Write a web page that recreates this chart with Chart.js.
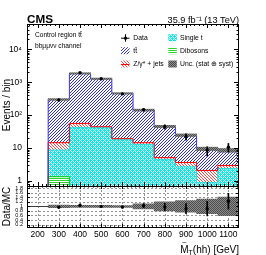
<!DOCTYPE html>
<html>
<head>
<meta charset="utf-8">
<script src="https://cdn.jsdelivr.net/npm/chart.js@4"></script>
<style>
  body { margin: 0; background: #fff; }
  #wrap { position: relative; width: 266px; height: 255px; }
  canvas { position: absolute; left: 0; top: 0; }
</style>
</head>
<body>
<div id="wrap">
  <canvas id="mainChart" width="266" height="255"></canvas>
  <canvas id="ratioChart" width="266" height="255"></canvas>
</div>
<script>
// bin centres (GeV), bins are 100 GeV wide
const binCenters = [300, 400, 500, 600, 700, 800, 900, 1000, 1100];

// expected yields per process (events / bin)
const ttbar     = [285, 1794, 1233, 438, 127.5, 40.3, 21, 7.4, 5.6];
const zjets     = [5.9, 14.6, 3.0, 0.6, 1.9, 0.7, 0.95, 1.2, 0.6];
const singleTop = [7.3, 40.9, 41.0, 18.3, 12.4, 4.3, 2.6, 0.83, 2.3];
const dibosons  = [1.34, 0.5, 0.4, 0.3, 0.2, 0.1, 0.08, 0.05, 0.05];

// observed data
const dataYield = [288, 1940, 1280, 443, 146, 44, 22.2, 8.6, 10.6];
const dataLow   = [271, 1896, 1244, 422, 134, 37.5, 17.3, 5.7, 7.5];
const dataHigh  = [305, 1984, 1316, 464, 158, 51, 27, 10.9, 13.8];

// relative MC uncertainty, main panel and ratio panel
const uncMain  = [0.06, 0.05, 0.05, 0.05, 0.07, 0.08, 0.09, 0.12, 0.13];
const uncRatio = [0.06, 0.05, 0.05, 0.04, 0.11, 0.2, 0.26, 0.32, 0.41];

// data / MC
const ratioVals = [0.96, 1.05, 1.0, 0.97, 1.03, 0.97, 0.9, 0.9, 1.23];
const ratioErr  = [0.03, 0.025, 0.03, 0.05, 0.09, 0.16, 0.22, 0.32, 0.35];

// axis ticks
const xTicks = [200, 300, 400, 500, 600, 700, 800, 900, 1000, 1100];
const yDecades = [1, 10, 100, 1000, 10000];
const yDecadeLabels = ['1', '10', '10²', '10³', '10⁴'];
const ratioTicks = [0.2, 0.4, 0.6, 0.8, 1.0, 1.2, 1.4, 1.6, 1.8];
const ratioLabels = ['0.2', '0.4', '0.6', '0.8', '1', '1.2', '1.4', '1.6', '1.8'];

const FONT = "'Liberation Sans', Arial, Helvetica, sans-serif";
Chart.defaults.font.family = FONT;
Chart.defaults.color = '#000';

const X_MIN = 150, X_MAX = 1150;
const Y_MIN = 0.7, Y_MAX = 5.9e4;
const HALF = 50;

function makePattern(n, bg, fg, test) {
    const c = document.createElement('canvas');
    c.width = n; c.height = n;
    const g = c.getContext('2d');
    if (bg) { g.fillStyle = bg; g.fillRect(0, 0, n, n); }
    g.fillStyle = fg;
    for (let y = 0; y < n; y++) {
        for (let x = 0; x < n; x++) {
            if (test(x, y)) g.fillRect(x, y, 1, 1);
        }
    }
    return g.createPattern(c, 'repeat');
}

const PAT = {
    tt: makePattern(3, '#fff', 'rgb(45,45,225)', (x, y) => (x + y) % 3 === 0),
    zj: makePattern(3, '#fff', 'rgb(255,70,70)', (x, y) => (x - y + 3) % 3 === 0),
    st: makePattern(4, '#fff', 'rgb(0,235,235)', (x, y) => !((x + y) % 4 === 0 || (x - y + 8) % 4 === 0)),
    vv: makePattern(2, '#fff', 'rgb(40,215,40)', (x, y) => y % 2 === 0),
    unc: makePattern(2, 'rgb(140,140,140)', 'rgb(75,75,75)', (x, y) => (x + y) % 2 === 0)
};

// cumulative stack tops
const cumVV = dibosons.slice();
const cumST = cumVV.map((v, i) => v + singleTop[i]);
const cumZ = cumST.map((v, i) => v + zjets[i]);
const cumTT = cumZ.map((v, i) => v + ttbar[i]);

function floatBars(lo, hi) {
    return binCenters.map((x, i) => ({ x: x, y: [lo[i], hi[i]] }));
}

function stepOutline(vals, floor) {
    const pts = [{ x: binCenters[0] - HALF, y: floor }];
    binCenters.forEach((c, i) => pts.push({ x: c - HALF, y: vals[i] }));
    const last = binCenters.length - 1;
    pts.push({ x: binCenters[last] + HALF, y: vals[last] });
    pts.push({ x: binCenters[last] + HALF, y: floor });
    return pts;
}

function histBar(lo, hi, fill, order) {
    return {
        type: 'bar', data: floatBars(lo, hi), backgroundColor: fill, borderWidth: 0,
        grouped: false, barPercentage: 1, categoryPercentage: 1, order: order, clip: 0
    };
}

function outline(vals, color, floor, order) {
    return {
        type: 'line', data: stepOutline(vals, floor), stepped: true, borderColor: color,
        borderWidth: 1, pointRadius: 0, fill: false, order: order, clip: 0
    };
}

const floorMain = binCenters.map(() => 0.01);

// ---------- decorations ----------
function drawFrame(ctx, a) {
    ctx.save();
    ctx.strokeStyle = '#000';
    ctx.lineWidth = 1;
    ctx.strokeRect(Math.round(a.left) + 0.5, Math.round(a.top) + 0.5,
        Math.round(a.right - a.left) - 1, Math.round(a.bottom - a.top));
    ctx.restore();
}

function drawXTicks(ctx, xs, a, majorLen, minorLen) {
    ctx.save();
    ctx.strokeStyle = '#000';
    ctx.lineWidth = 1;
    ctx.beginPath();
    for (let v = X_MIN + 10; v < X_MAX; v += 20) {
        const px = Math.round(xs.getPixelForValue(v)) + 0.5;
        ctx.moveTo(px, a.top); ctx.lineTo(px, a.top + minorLen);
        ctx.moveTo(px, a.bottom); ctx.lineTo(px, a.bottom - minorLen);
    }
    xTicks.forEach(v => {
        const px = Math.round(xs.getPixelForValue(v)) + 0.5;
        ctx.moveTo(px, a.top); ctx.lineTo(px, a.top + majorLen);
        ctx.moveTo(px, a.bottom); ctx.lineTo(px, a.bottom - majorLen);
    });
    ctx.stroke();
    ctx.restore();
}

function drawYTicks(ctx, ys, a, list, len) {
    ctx.save();
    ctx.strokeStyle = '#000';
    ctx.lineWidth = 1;
    ctx.beginPath();
    list.forEach(v => {
        const py = Math.round(ys.getPixelForValue(v)) + 0.5;
        if (py < a.top || py > a.bottom) return;
        ctx.moveTo(a.left, py); ctx.lineTo(a.left + len, py);
        ctx.moveTo(a.right, py); ctx.lineTo(a.right - len, py);
    });
    ctx.stroke();
    ctx.restore();
}

function swatch(ctx, x, y, fill, line) {
    ctx.fillStyle = fill;
    ctx.fillRect(x, y - 3.5, 8.5, 7);
    if (line) {
        ctx.strokeStyle = line;
        ctx.lineWidth = 1;
        ctx.beginPath();
        ctx.moveTo(x, y + 0.5); ctx.lineTo(x + 8.5, y + 0.5);
        ctx.stroke();
    }
}

const mainDecor = {
    id: 'mainDecor',
    afterDraw(chart) {
        const ctx = chart.ctx, a = chart.chartArea;
        const xs = chart.scales.x, ys = chart.scales.y;
        drawFrame(ctx, a);
        drawXTicks(ctx, xs, a, 4, 2);
        const minors = [];
        [0.1, 1, 10, 100, 1000, 10000].forEach(d => {
            for (let k = 2; k <= 9; k++) {
                const v = k * d;
                if (v > Y_MIN && v < Y_MAX) minors.push(v);
            }
        });
        drawYTicks(ctx, ys, a, minors, 2.5);
        drawYTicks(ctx, ys, a, yDecades, 5);

        ctx.save();
        ctx.fillStyle = '#000';
        ctx.textBaseline = 'alphabetic';
        ctx.font = 'bold 11.7px ' + FONT;
        ctx.textAlign = 'left';
        ctx.fillText('CMS', a.left, 23);
        ctx.font = '9.2px ' + FONT;
        ctx.textAlign = 'right';
        ctx.fillText('35.9 fb⁻¹ (13 TeV)', a.right, 22.5);

        ctx.textAlign = 'left';
        ctx.font = '6.6px ' + FONT;
        ctx.fillText('Control region tt\u0304', 35, 37.3);
        ctx.fillText('bbμμνν channel', 35, 47.5);

        // legend
        const r1 = 37.7, r2 = 50.7, r3 = 64;
        const c1 = 121, c2 = 168.3;
        ctx.strokeStyle = '#000';
        ctx.lineWidth = 1;
        ctx.beginPath();
        ctx.moveTo(c1, r1 + 0.5); ctx.lineTo(c1 + 8.5, r1 + 0.5);
        ctx.moveTo(c1 + 4.5, r1 - 3.5); ctx.lineTo(c1 + 4.5, r1 + 4);
        ctx.stroke();
        ctx.beginPath();
        ctx.arc(c1 + 4.5, r1 + 0.5, 1.6, 0, Math.PI * 2);
        ctx.fillStyle = '#000';
        ctx.fill();
        swatch(ctx, c1, r2, PAT.tt);
        swatch(ctx, c1, r3, PAT.zj, 'rgb(255,0,0)');
        swatch(ctx, c2, r1, PAT.st);
        swatch(ctx, c2, r2, PAT.vv);
        swatch(ctx, c2, r3, PAT.unc);

        ctx.fillStyle = '#000';
        ctx.font = '6.8px ' + FONT;
        const off = 2.4;
        ctx.fillText('Data', c1 + 12.3, r1 + off);
        ctx.fillText('tt\u0304', c1 + 12.3, r2 + off);
        ctx.fillText('Z/γ* + jets', c1 + 12.3, r3 + off);
        ctx.fillText('Single t', c2 + 11.7, r1 + off);
        ctx.fillText('Dibosons', c2 + 11.7, r2 + off);
        ctx.fillText('Unc. (stat ⊕ syst)', c2 + 11.7, r3 + off);
        ctx.restore();
    }
};

const ratioDecor = {
    id: 'ratioDecor',
    beforeDatasetsDraw(chart) {
        const ctx = chart.ctx, a = chart.chartArea;
        const xs = chart.scales.x, ys = chart.scales.y;
        ctx.save();
        ctx.strokeStyle = 'rgb(120,120,120)';
        ctx.lineWidth = 0.8;
        ctx.setLineDash([2, 2]);
        ctx.beginPath();
        xTicks.forEach(v => {
            const px = Math.round(xs.getPixelForValue(v)) + 0.5;
            ctx.moveTo(px, a.top); ctx.lineTo(px, a.bottom);
        });
        ratioTicks.forEach(v => {
            const py = Math.round(ys.getPixelForValue(v)) + 0.5;
            ctx.moveTo(a.left, py); ctx.lineTo(a.right, py);
        });
        ctx.stroke();
        ctx.setLineDash([]);
        ctx.strokeStyle = 'rgb(60,60,60)';
        ctx.lineWidth = 1;
        ctx.beginPath();
        const p1 = Math.round(ys.getPixelForValue(1)) + 0.5;
        ctx.moveTo(a.left, p1); ctx.lineTo(a.right, p1);
        ctx.stroke();
        ctx.restore();
    },
    afterDraw(chart) {
        const ctx = chart.ctx, a = chart.chartArea;
        const xs = chart.scales.x, ys = chart.scales.y;
        drawFrame(ctx, a);
        drawXTicks(ctx, xs, a, 3, 1.5);
        drawYTicks(ctx, ys, a, ratioTicks, 3);

        // x title: M~_T(hh) [GeV]
        ctx.save();
        ctx.fillStyle = '#000';
        ctx.textBaseline = 'alphabetic';
        ctx.textAlign = 'left';
        const big = '10px ' + FONT, small = '7px ' + FONT;
        ctx.font = big;
        const wM = ctx.measureText('M').width;
        const rest = '(hh) [GeV]';
        const wR = ctx.measureText(rest).width;
        ctx.font = small;
        const wT = ctx.measureText('T').width;
        const x0 = a.right - (wM + wT + wR);
        const base = 252.5;
        ctx.font = big;
        ctx.fillText('M', x0, base);
        ctx.font = small;
        ctx.fillText('T', x0 + wM, base + 2);
        ctx.font = big;
        ctx.fillText(rest, x0 + wM + wT, base);
        ctx.font = '8px ' + FONT;
        ctx.textAlign = 'center';
        ctx.fillText('~', x0 + wM / 2, base - 7.3);
        ctx.restore();
    }
};

function fixedWidth(scale) { scale.width = 27; }

new Chart(document.getElementById('mainChart'), {
    type: 'bar',
    data: {
        datasets: [
            // error bars and data points
            {
                type: 'bar', data: floatBars(dataLow, dataHigh), backgroundColor: '#000',
                barThickness: 1, grouped: false, order: 1, clip: 0
            },
            {
                type: 'line', data: binCenters.map((x, i) => ({ x: x, y: dataYield[i] })),
                showLine: false, pointRadius: 1.7, pointBorderWidth: 0,
                pointBackgroundColor: '#000', order: 0
            },
            // MC uncertainty band
            histBar(cumTT.map((v, i) => v * (1 - uncMain[i])), cumTT.map((v, i) => v * (1 + uncMain[i])), PAT.unc, 3),
            // outlines
            outline(cumTT, 'rgb(60,60,220)', 0.01, 5),
            outline(cumZ, 'rgb(255,0,0)', 0.01, 6),
            outline(cumST, 'rgb(0,230,230)', 0.01, 7),
            outline(cumVV, 'rgb(0,200,0)', 0.01, 8),
            // stack fills
            histBar(cumZ, cumTT, PAT.tt, 10),
            histBar(cumST, cumZ, PAT.zj, 11),
            histBar(cumVV, cumST, PAT.st, 12),
            histBar(floorMain, cumVV, PAT.vv, 13)
        ]
    },
    options: {
        responsive: false,
        animation: false,
        devicePixelRatio: 1,
        layout: { padding: { left: 0, right: 27, top: 24, bottom: 69 } },
        plugins: { legend: { display: false }, tooltip: { enabled: false } },
        scales: {
            x: {
                type: 'linear', min: X_MIN, max: X_MAX, offset: false,
                afterBuildTicks: s => { s.ticks = xTicks.map(v => ({ value: v })); },
                ticks: { display: false },
                grid: { display: false, drawTicks: false, offset: false },
                border: { display: false }
            },
            y: {
                type: 'logarithmic', min: Y_MIN, max: Y_MAX,
                afterBuildTicks: s => { s.ticks = yDecades.map(v => ({ value: v })); },
                afterFit: fixedWidth,
                ticks: {
                    callback: v => yDecadeLabels[yDecades.indexOf(v)] || '',
                    font: { size: 8.5 }, padding: 5, autoSkip: false, maxRotation: 0
                },
                grid: { display: false, drawTicks: false },
                border: { display: false },
                title: {
                    display: true, text: 'Events / bin', font: { size: 10 },
                    padding: { top: 1, bottom: 0 }
                }
            }
        }
    },
    plugins: [mainDecor]
});

new Chart(document.getElementById('ratioChart'), {
    type: 'bar',
    data: {
        datasets: [
            {
                type: 'bar', data: floatBars(ratioVals.map((v, i) => v - ratioErr[i]), ratioVals.map((v, i) => v + ratioErr[i])),
                backgroundColor: '#000', barThickness: 1, grouped: false, order: 1, clip: 0
            },
            {
                type: 'line', data: binCenters.map((x, i) => ({ x: x, y: ratioVals[i] })),
                showLine: false, pointRadius: 1.7, pointBorderWidth: 0,
                pointBackgroundColor: '#000', order: 0
            },
            histBar(uncRatio.map(u => 1 - u), uncRatio.map(u => 1 + u), PAT.unc, 3)
        ]
    },
    options: {
        responsive: false,
        animation: false,
        devicePixelRatio: 1,
        layout: { padding: { left: 0, right: 27, top: 186, bottom: 12 } },
        plugins: { legend: { display: false }, tooltip: { enabled: false } },
        scales: {
            x: {
                type: 'linear', min: X_MIN, max: X_MAX, offset: false,
                afterBuildTicks: s => { s.ticks = xTicks.map(v => ({ value: v })); },
                ticks: { callback: v => String(v), font: { size: 8.5 }, padding: 3, autoSkip: false, maxRotation: 0 },
                grid: { display: false, drawTicks: false, offset: false },
                border: { display: false }
            },
            y: {
                type: 'linear', min: 0.1, max: 1.9,
                afterBuildTicks: s => { s.ticks = ratioTicks.map(v => ({ value: v })); },
                afterFit: fixedWidth,
                ticks: {
                    callback: v => ratioLabels[ratioTicks.findIndex(t => Math.abs(t - v) < 1e-6)] || '',
                    font: { size: 5.5 }, padding: 4, autoSkip: false
                },
                grid: { display: false, drawTicks: false },
                border: { display: false },
                title: {
                    display: true, text: 'Data/MC', font: { size: 10 },
                    padding: { top: 1, bottom: 0 }
                }
            }
        }
    },
    plugins: [ratioDecor]
});
</script>
</body>
</html>
